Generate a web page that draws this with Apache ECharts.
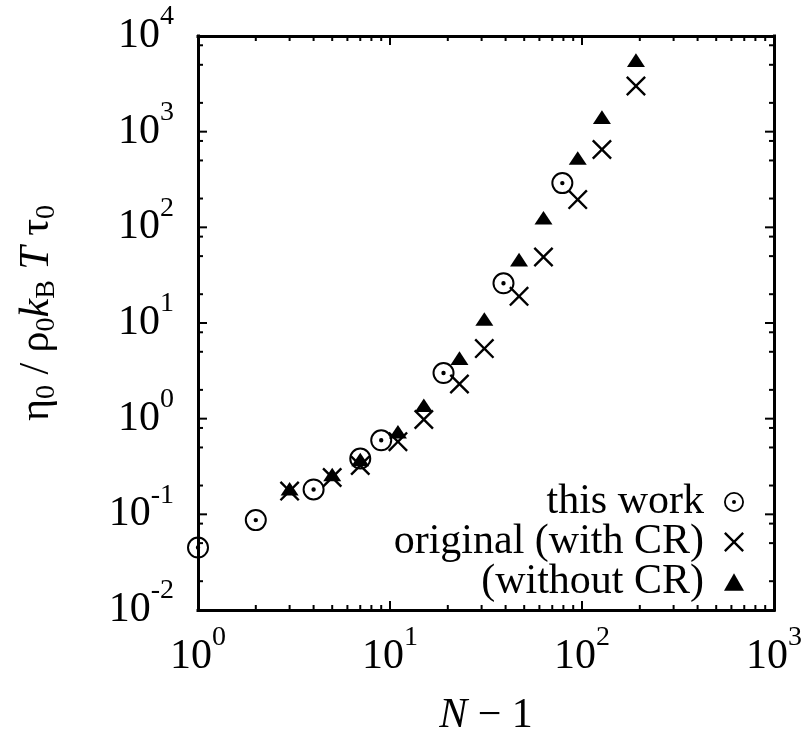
<!DOCTYPE html>
<html><head><meta charset="utf-8">
<script src="https://cdn.jsdelivr.net/npm/echarts@6/dist/echarts.min.js"></script>
<style>html,body{margin:0;padding:0;background:#fff}#c{width:809px;height:742px}</style>
</head><body><div id="c"></div>
<script>
// ---- data ----
const xThisWork = [1, 2, 4, 7, 9, 19, 39, 79];
const yThisWork = [0.045, 0.087, 0.182, 0.383, 0.594, 3.0, 26, 290];
const xOriginal = [3, 5, 7, 11, 15, 23, 31, 47, 63, 95, 127, 191];
const yWithCR = [0.175, 0.243, 0.324, 0.575, 0.98, 2.3, 5.4, 19, 49, 195, 650, 3000];
const yWithoutCR = [0.185, 0.261, 0.374, 0.73, 1.38, 4.3, 11, 46, 126, 530, 1420, 5600];
const xMajorTicks = [1, 10, 100, 1000];
const yMajorTicks = [0.01, 0.1, 1, 10, 100, 1000, 10000];
const xMinorTicks = [2, 3, 4, 5, 6, 7, 8, 9, 20, 30, 40, 50, 60, 70, 80, 90, 200, 300, 400, 500, 600, 700, 800, 900];
const yMinorTicks = [0.02, 0.05, 0.08, 0.2, 0.5, 0.8, 2, 5, 8, 20, 50, 80, 200, 500, 800, 2000, 5000, 8000];
const seriesNames = ['this work', 'original (with CR)', '(without CR)'];
const X_MIN = 1, X_MAX = 1000, Y_MIN = 0.01, Y_MAX = 10000;

// ---- styles ----
const FONT = 'Liberation Serif';
const CIRCLE_DOT = 'path://M50,0A50,50 0 1,1 50,100A50,50 0 1,1 50,0Z M50,9A41,41 0 1,0 50,91A41,41 0 1,0 50,9Z M50,40A10,10 0 1,1 50,60A10,10 0 1,1 50,40Z';
const d = 8.5;
const CROSS = 'path://M0,' + d + 'L' + d + ',0L50,' + (50 - d) + 'L' + (100 - d) + ',0L100,' + d + 'L' + (50 + d) + ',50L100,' + (100 - d) + 'L' + (100 - d) + ',100L50,' + (50 + d) + 'L' + d + ',100L0,' + (100 - d) + 'L' + (50 - d) + ',50Z';
const TRI = 'path://M50,0L100,87L0,87Z';

const labelRich = {
  b: { fontSize: 42, fontFamily: FONT, color: '#000', lineHeight: 66 },
  s: { fontSize: 28, fontFamily: FONT, color: '#000', lineHeight: 28, verticalAlign: 'top' }
};
function powLabel(v) {
  const n = Math.round(Math.log10(v));
  return '{b|10}{s|' + n + '}';
}
const AX = { show: true, onZero: false, lineStyle: { color: '#000', width: 3, cap: 'square' } };

function makeX(pos, labels) {
  return {
    type: 'log', logBase: 10, min: X_MIN, max: X_MAX, position: pos, gridIndex: 0,
    splitNumber: 3,
    axisLine: AX,
    axisTick: { show: false },
    axisLabel: labels
      ? { show: true, margin: 14, customValues: xMajorTicks, formatter: powLabel, rich: labelRich }
      : { show: false },
    splitLine: { show: false },
    minorTick: { show: false }
  };
}
function makeY(pos, labels) {
  return {
    type: 'log', logBase: 10, min: Y_MIN, max: Y_MAX, position: pos, gridIndex: 0,
    splitNumber: 6,
    axisLine: AX,
    axisTick: { show: false },
    axisLabel: labels
      ? { show: true, margin: 24, customValues: yMajorTicks, formatter: powLabel, rich: labelRich }
      : { show: false },
    splitLine: { show: false },
    minorTick: { show: false }
  };
}

const xMain = makeX('bottom', true);
xMain.name = '{i|N}{r| \u2212 1}';
xMain.nameLocation = 'middle';
xMain.nameGap = 85;
xMain.nameTextStyle = {
  rich: {
    i: { fontSize: 42, fontFamily: FONT, fontStyle: 'italic', color: '#000', lineHeight: 42 },
    r: { fontSize: 42, fontFamily: FONT, color: '#000', lineHeight: 42 }
  }
};
const yMain = makeY('left', true);
yMain.name = '{g|\u03b7}{u|0}{g| / \u03c1}{u|0}{i|k}{u|B}{i| T}{g| \u03c4}{u|0}';
yMain.nameLocation = 'middle';
yMain.nameRotate = 90;
yMain.nameGap = 137;
yMain.nameTextStyle = {
  padding: [0, 0, 0, 20],
  rich: {
    g: { fontSize: 42, fontFamily: FONT, color: '#000', lineHeight: 48 },
    i: { fontSize: 42, fontFamily: FONT, fontStyle: 'italic', color: '#000', lineHeight: 48 },
    u: { fontSize: 28, fontFamily: FONT, color: '#000', lineHeight: 28, verticalAlign: 'bottom' }
  }
};

function pairs(xs, ys) { return xs.map((x, i) => [x, ys[i]]); }

const TICK_STYLE = { stroke: '#000', lineWidth: 2 };
function xTickSeries(values, len) {
  return {
    type: 'custom', silent: true, clip: false, z: 1,
    data: values.map(v => [v, 1]),
    renderItem: function (params, api) {
      const v = api.value(0);
      const b = api.coord([v, Y_MIN]);
      const t = api.coord([v, Y_MAX]);
      return {
        type: 'group', children: [
          { type: 'line', shape: { x1: b[0], y1: b[1], x2: b[0], y2: b[1] - len }, style: TICK_STYLE },
          { type: 'line', shape: { x1: t[0], y1: t[1], x2: t[0], y2: t[1] + len }, style: TICK_STYLE }
        ]
      };
    }
  };
}
function yTickSeries(values, len) {
  return {
    type: 'custom', silent: true, clip: false, z: 1,
    data: values.map(v => [1, v]),
    renderItem: function (params, api) {
      const v = api.value(1);
      const l = api.coord([X_MIN, v]);
      const r = api.coord([X_MAX, v]);
      return {
        type: 'group', children: [
          { type: 'line', shape: { x1: l[0], y1: l[1], x2: l[0] + len, y2: l[1] }, style: TICK_STYLE },
          { type: 'line', shape: { x1: r[0], y1: r[1], x2: r[0] - len, y2: r[1] }, style: TICK_STYLE }
        ]
      };
    }
  };
}

const chart = echarts.init(document.getElementById('c'), null, { renderer: 'canvas' });
chart.setOption({
  animation: false,
  backgroundColor: '#fff',
  grid: { left: 198, top: 36, right: 35, bottom: 129, containLabel: false },
  xAxis: [xMain, makeX('top', false)],
  yAxis: [yMain, makeY('right', false)],
  legend: {
    orient: 'vertical', right: 60, top: 476, align: 'right',
    itemWidth: 20, itemHeight: 20, itemGap: -2,
    selectedMode: false,
    textStyle: { fontSize: 42, fontFamily: FONT, color: '#000', lineHeight: 39, padding: [0, 15, 0, 0] },
    data: [
      { name: seriesNames[0], icon: CIRCLE_DOT },
      { name: seriesNames[1], icon: CROSS },
      { name: seriesNames[2], icon: TRI }
    ]
  },
  series: [
    xTickSeries(xMajorTicks, 9),
    xTickSeries(xMinorTicks, 5),
    yTickSeries(yMajorTicks, 9),
    yTickSeries(yMinorTicks, 5),
    {
      name: seriesNames[1], type: 'scatter', data: pairs(xOriginal, yWithCR),
      symbol: CROSS, symbolSize: 20, symbolKeepAspect: true, clip: false, z: 3,
      itemStyle: { color: '#000', opacity: 1 }
    },
    {
      name: seriesNames[2], type: 'scatter', data: pairs(xOriginal, yWithoutCR),
      symbol: TRI, symbolSize: [18, 15.7], symbolKeepAspect: true, clip: false, z: 3,
      itemStyle: { color: '#000', opacity: 1 }
    },
    {
      name: seriesNames[0], type: 'scatter', data: pairs(xThisWork, yThisWork),
      symbol: CIRCLE_DOT, symbolSize: 22, symbolKeepAspect: true, clip: false, z: 3,
      itemStyle: { color: '#000', opacity: 1 }
    }
  ]
});
</script></body></html>
